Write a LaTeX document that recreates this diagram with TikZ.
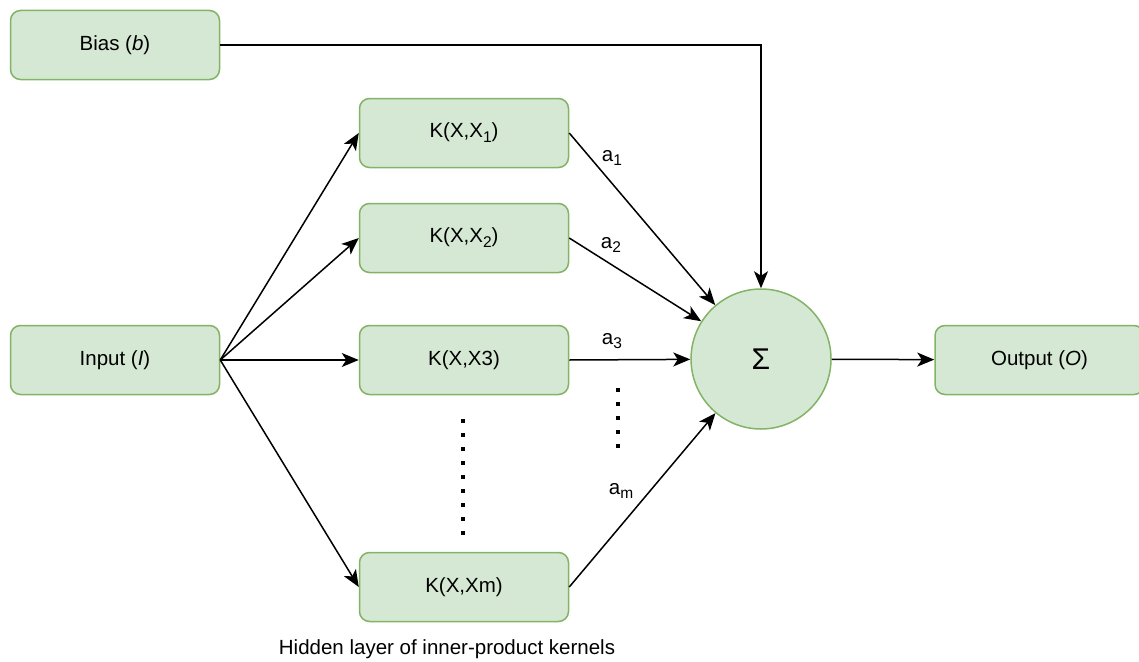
\documentclass[tikz,border=0pt]{standalone}
\usepackage{fontspec}
\setmainfont{Liberation Sans}
\usetikzlibrary{arrows.meta}
\definecolor{boxfill}{HTML}{D5E8D4}
\definecolor{boxline}{HTML}{82B366}
\newcommand{\lowsub}[1]{\raisebox{-0.45ex}{\fontsize{15.5}{16}\selectfont #1}}

\begin{document}
\begin{tikzpicture}[x=1pt,y=-1pt,
  box/.style={draw=boxline, fill=boxfill, line width=1.5pt, rounded corners=10pt,
    minimum width=209pt, minimum height=69pt, inner sep=0pt,
    font=\fontsize{20.5}{24}\selectfont},
  lbl/.style={inner sep=0pt, font=\fontsize{20.5}{24}\selectfont},
  wire/.style={draw, line width=1.5pt, -{Stealth[length=17pt,width=14pt,inset=4.5pt]}}]
\useasboundingbox (0,0) rectangle (1139,661);

\node[box] (bias) at (115,45) {Bias (\textit{b})};
\node[box] (inp) at (115,360) {Input (\textit{I})};

\node[box] (k1) at (464,133) {K(X,X\lowsub{1})};
\node[box] (k2) at (464,238) {K(X,X\lowsub{2})};
\node[box] (k3) at (464,360) {K(X,X3)};
\node[box] (km) at (464,587) {K(X,Xm)};

\node[draw=boxline, fill=boxfill, line width=1.5pt, circle, minimum size=140pt,
  inner sep=0pt, font=\fontsize{30}{34}\selectfont] (sum) at (761,359) {Σ};
\node[box] (out) at (1039.5,360) {Output (\textit{O})};

\path[wire] (inp.east) -- (k1.west);
\path[wire] (inp.east) -- (k2.west);
\path[wire] (inp.east) -- (k3.west);
\path[wire] (inp.east) -- (km.west);

\path[wire] (k1.east) -- (sum);
\path[wire] (k2.east) -- (sum);
\path[wire] (k3.east) -- (sum);
\path[wire] (km.east) -- (sum);
\path[wire] (bias.east) -| (sum);
\path[wire] (sum) -- (out);

\node[lbl] (a1) at (612,158) {a\lowsub{1}};
\node[lbl] (a2) at (611,245) {a\lowsub{2}};
\node[lbl] (a3) at (612,341) {a\lowsub{3}};
\node[lbl] (am) at (621,491) {a\lowsub{m}};

% dots
\draw[line width=3.5pt, dash pattern=on 3.5pt off 10.5pt] (463,419) -- (463,536);
\draw[line width=3.5pt, dash pattern=on 3.5pt off 10.5pt] (618,388) -- (618,448);

\node[lbl] (cap) at (447,649) {Hidden layer of inner-product kernels};
\end{tikzpicture}
\end{document}
